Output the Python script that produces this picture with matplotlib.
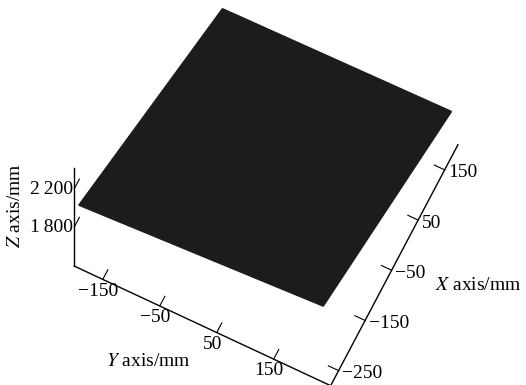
import matplotlib
matplotlib.use("Agg")
import matplotlib.pyplot as plt
from mpl_toolkits.mplot3d.art3d import Poly3DCollection

# corners of the scanned board (left, bottom, right, top as seen in the view), mm
corner_x = [-278, -278, 200, 200]
corner_y = [-193, 235, 237, -164]
corner_z = [2044, 2180, 1706, 1664]

x_ticks = [-250, -150, -50, 50, 150]
y_ticks = [-150, -50, 50, 150]
z_ticks = [1800, 2200]
z_tick_labels = ["1\u2009800", "2\u2009200"]

plt.rcParams['font.family'] = ['Liberation Serif', 'DejaVu Serif']
plt.rcParams['mathtext.fontset'] = 'stix'
plt.rcParams['font.size'] = 14

fig = plt.figure(figsize=(5.26, 3.85), dpi=100)
ax = fig.add_axes([-0.004, 0.08, 1, 1], projection='3d')
ax.set_proj_type('ortho')
ax.set_box_aspect((1, 1, 1), zoom=1.25)

verts = [list(zip(corner_x, corner_y, corner_z))]
board = Poly3DCollection(verts, facecolor='#1c1c1c', edgecolor='#1c1c1c', linewidth=1.5)
ax.add_collection3d(board)

ax.set_xlim(-280, 200)
ax.set_ylim(250, -200)
ax.set_zlim(1390, 2415)

ax.set_xticks(x_ticks)
ax.set_yticks(y_ticks)
ax.set_zticks(z_ticks)
ax.set_xticklabels([str(v).replace('-', '\u2212') for v in x_ticks], ha='left', va='center')
ax.set_yticklabels([str(v).replace('-', '\u2212') for v in y_ticks], ha='center', va='center')
ax.set_zticklabels(z_tick_labels, ha='right', va='center')
ax.tick_params(axis='x', pad=-6)
ax.tick_params(axis='y', pad=-3)
ax.tick_params(axis='z', pad=-7.5)

ax.grid(False)
for axis in (ax.xaxis, ax.yaxis, ax.zaxis):
    axis.pane.fill = False
    axis.pane.set_edgecolor('none')
    axis.line.set_color('black')
    axis.line.set_linewidth(1.0)
    axis._axinfo['tick']['inward_factor'] = 0.0
    axis._axinfo['tick']['outward_factor'] = 0.5
    axis._axinfo['tick']['linewidth'] = {True: 0.8, False: 0.5}

ax.view_init(elev=70, azim=206.4)

# axis titles placed as in the original figure
fig.text(478 / 526, 1 - 285 / 385, r"$X$ axis/mm", ha='center', va='center')
fig.text(148 / 526, 1 - 361 / 385, r"$Y$ axis/mm", ha='center', va='center')
fig.text(16 / 526, 1 - 206 / 385, r"$Z$ axis/mm", ha='center', va='center', rotation=90)

fig.savefig("out.png", dpi=100)
